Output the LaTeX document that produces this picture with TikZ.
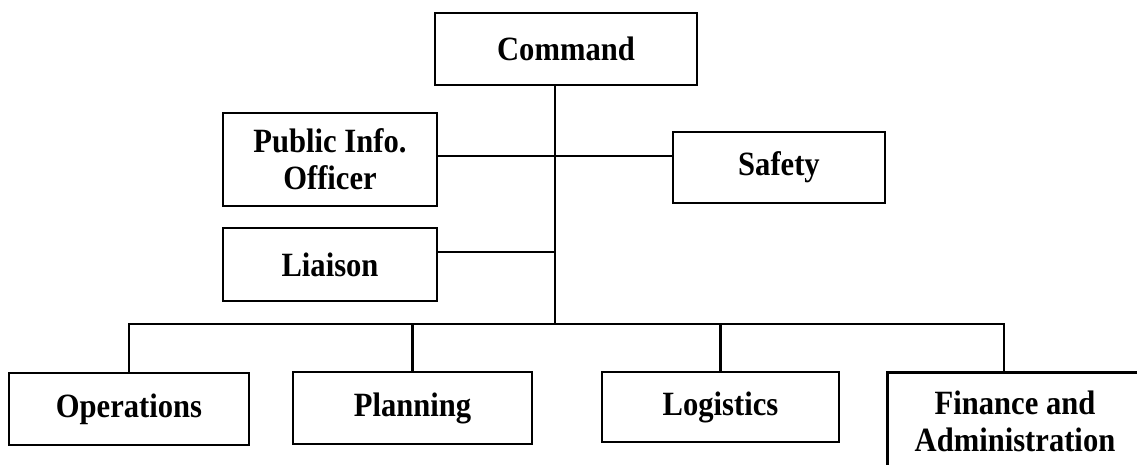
\documentclass[tikz,border=0pt]{standalone}
\usepackage{fontspec}
\setmainfont{Liberation Serif}[FakeStretch=0.9]
\begin{document}
\begin{tikzpicture}[x=1pt,y=-1pt,
  orgbox/.style={draw, line width=2.6pt, fill=white, inner sep=0pt, align=center,
    font=\fontsize{34}{37}\selectfont\bfseries},
  link/.style={line width=2.6pt}]
\useasboundingbox (0,0) rectangle (1137,464);
\clip (0,0) rectangle (1137,464);

% top level and staff
\node[orgbox, minimum width=262pt, minimum height=72pt] (cmd) at (566,49) {Command};
\node[orgbox, minimum width=214pt, minimum height=93pt] (pio) at (330,159.5) {Public Info.\\Officer};
\node[orgbox, minimum width=212pt, minimum height=71pt] (safety) at (779,167.5) {Safety};
\node[orgbox, minimum width=214pt, minimum height=73pt] (liaison) at (330,264.5) {Liaison};

% sections
\node[orgbox, minimum width=240pt, minimum height=72pt] (ops) at (129,409) {Operations};
\node[orgbox, minimum width=239pt, minimum height=72pt] (plan) at (412.5,408) {Planning};
\node[orgbox, minimum width=237pt, minimum height=70pt] (logi) at (720.5,407) {Logistics};
\node[orgbox, minimum width=258pt, minimum height=110pt, anchor=north west] (fin) at (886,371) {};
\node[font=\fontsize{34}{37}\selectfont\bfseries, align=center, inner sep=0pt] (fintext) at (1015,421) {Finance and\\Administration};

% junction points on the trunk
\coordinate (trunk) at (555,324);
\coordinate (staffline) at (555,156);
\coordinate (liaisonjoin) at (555,252);
\coordinate (findrop) at (1004,324);

\draw[link] (cmd.south -| trunk) -- (trunk);
\draw[link] (pio.east |- staffline) -- (safety.west |- staffline);
\draw[link] (liaison.east |- liaisonjoin) -- (liaisonjoin);
\draw[link] (ops.north) -- (ops.north |- trunk) -- (findrop) -- (findrop |- fin.north);
\draw[link] (plan.north) -- (plan.north |- trunk);
\draw[link] (logi.north) -- (logi.north |- trunk);
\end{tikzpicture}
\end{document}
